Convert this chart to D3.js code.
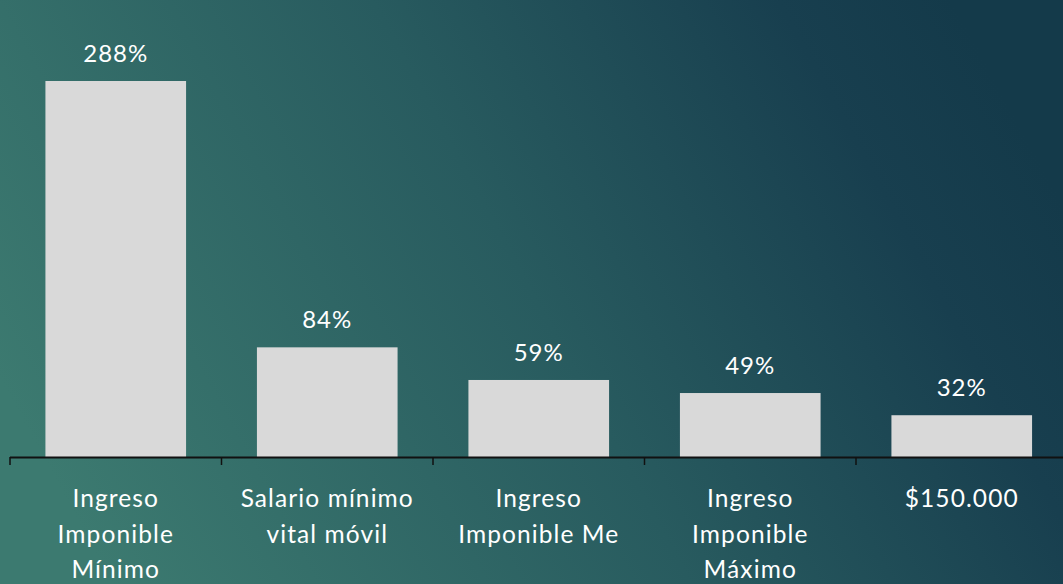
<!DOCTYPE html>
<html><head><meta charset="utf-8">
<script src="https://cdn.jsdelivr.net/npm/d3@7"></script>
<style>html,body{margin:0;padding:0;overflow:hidden;background:#1f5058}</style>
</head><body>
<script>
const categories = [["Ingreso","Imponible","Mínimo"],["Salario mínimo","vital móvil"],["Ingreso","Imponible Me"],["Ingreso","Imponible","Máximo"],["$150.000"]];
const values = [288, 84, 59, 49, 32];
const valueLabels = ["288%","84%","59%","49%","32%"];

const W = 1063, H = 584;
const svg = d3.select("body").append("svg").attr("width", W).attr("height", H);
const defs = svg.append("defs");
const g = defs.append("linearGradient").attr("id","bg").attr("x1","0").attr("y1","0.65").attr("x2","1").attr("y2","0.35");
g.append("stop").attr("offset","0").attr("stop-color","#3c7a70");
g.append("stop").attr("offset","0.5").attr("stop-color","#285b5f");
g.append("stop").attr("offset","0.85").attr("stop-color","#183f4f");
g.append("stop").attr("offset","1").attr("stop-color","#143a4a");
svg.append("rect").attr("width",W).attr("height",H).attr("fill","url(#bg)");

const idx = d3.range(values.length);
const x = d3.scaleBand().domain(idx).range([10, 1067.5]).paddingInner(0.335).paddingOuter(0.1675);
const y = d3.scaleLinear().domain([0, 288]).range([457, 81]);
const font = "Lato, 'Open Sans', sans-serif";

svg.selectAll("rect.bar").data(values).join("rect").attr("class","bar")
  .attr("x",(d,i)=>x(i)).attr("width",x.bandwidth())
  .attr("y",d=>y(d)).attr("height",d=>y(0)-y(d)).attr("fill","#d9d9d9");

svg.selectAll("text.val").data(values).join("text").attr("class","val")
  .attr("x",(d,i)=>x(i)+x.bandwidth()/2).attr("y",d=>y(d)-19)
  .attr("text-anchor","middle").attr("fill","#fff")
  .style("font-family",font).style("font-size","24px").style("letter-spacing","1px")
  .text((d,i)=>valueLabels[i]);

// axis
const step = x.step();
const ax = svg.append("g");
ax.append("line").attr("x1",10).attr("x2",W).attr("y1",457.5).attr("y2",457.5).attr("stroke","#111").attr("stroke-width",2);
ax.selectAll("line.tick").data(d3.range(values.length+1)).join("line").attr("class","tick")
  .attr("x1",d=>10+d*step).attr("x2",d=>10+d*step).attr("y1",457).attr("y2",465)
  .attr("stroke","#111").attr("stroke-width",1.5);

const lab = svg.selectAll("text.cat").data(categories).join("text").attr("class","cat")
  .attr("x",(d,i)=>x(i)+x.bandwidth()/2).attr("y",507)
  .attr("text-anchor","middle").attr("fill","#fff")
  .style("font-family",font).style("font-size","24.5px").style("letter-spacing","1.1px");
lab.each(function(d,i){
  const t = d3.select(this);
  d.forEach((line,k)=>{
    t.append("tspan").attr("x",x(i)+x.bandwidth()/2).attr("y",507+k*35.5).text(line);
  });
});
</script>
</body></html>
